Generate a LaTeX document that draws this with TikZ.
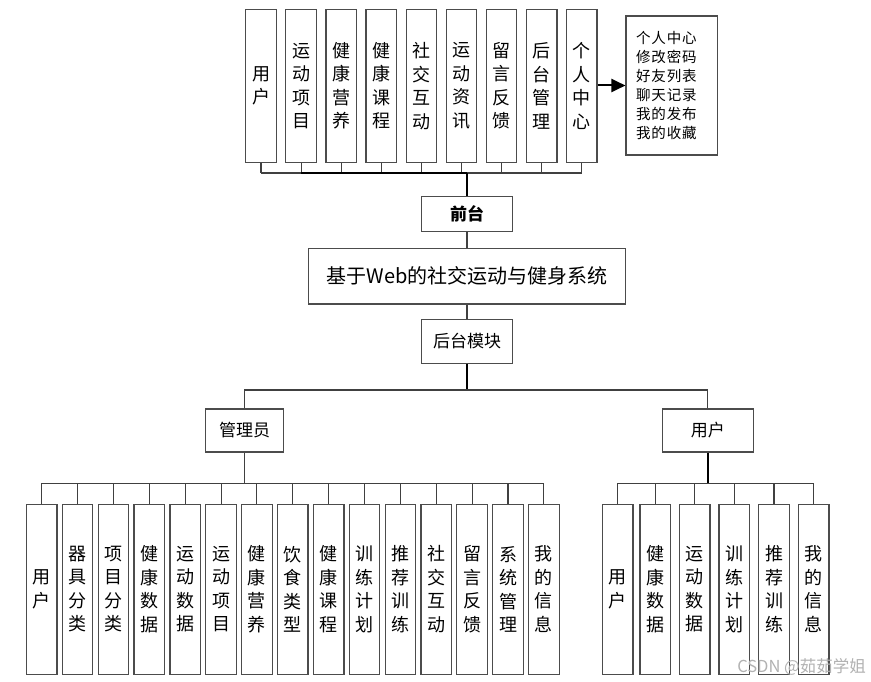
\documentclass[tikz,border=0pt]{standalone}
\usepackage{fontspec}
\setmainfont{Noto Sans CJK SC}
\newfontfamily\cjksp[LetterSpace=6]{Noto Sans CJK SC}
\usetikzlibrary{arrows.meta}
\begin{document}
\begin{tikzpicture}[x=1pt,y=-1pt,
  boxline/.style={draw=black!70,line width=1.2pt},
  vbox/.style={boxline,minimum width=30.5pt,inner sep=0pt,align=center,
    font=\fontsize{18}{23.5}\selectfont},
  topbox/.style={vbox,minimum height=152.8pt},
  lowbox/.style={vbox,minimum height=170pt},
  hbox/.style={boxline,inner sep=0pt,font=\fontsize{17}{20}\selectfont},
  conn/.style={draw=black!75,line width=1.1pt},
  spine/.style={draw=black,line width=1.5pt}]
\useasboundingbox (0,0) rectangle (871,682);
\fill[white] (0,0) rectangle (871,682);

% top row
\foreach \i/\txt in {1/用\\户,2/运\\动\\项\\目,3/健\\康\\营\\养,4/健\\康\\课\\程,5/社\\交\\互\\动,6/运\\动\\资\\讯,7/留\\言\\反\\馈,8/后\\台\\管\\理,9/个\\人\\中\\心}
  \node[topbox] (t\i) at ({261+40.1*(\i-1)},85.9) {\txt};

\node[boxline,minimum width=91.7pt,minimum height=139pt,inner xsep=10pt,inner ysep=0pt,
  text width=71.7pt,align=left,font=\cjksp\fontsize{14.5}{19}\selectfont] (pc) at (671.9,85.5)
  {个人中心\\修改密码\\好友列表\\聊天记录\\我的发布\\我的收藏};
\draw[black,line width=2pt,-{Triangle[length=14pt,width=13pt]}] (t9.east |- pc.west) -- (pc.west);

\node[hbox,minimum width=91.4pt,minimum height=35.7pt,font=\fontsize{17}{20}\selectfont\bfseries] (ft) at (467,214) {前台};
\node[hbox,minimum width=317.4pt,minimum height=55.7pt,font=\fontsize{20}{24}\selectfont] (sys) at (467,276.2) {基于Web的社交运动与健身系统};
\node[hbox,minimum width=91pt,minimum height=44pt] (bk) at (467,341.3) {后台模块};
\node[hbox,minimum width=77.6pt,minimum height=43pt] (adm) at (244.5,430.5) {管理员};
\node[hbox,minimum width=91pt,minimum height=43pt] (usr) at (707.8,430.5) {用户};

\coordinate (tb) at (467,173);
\foreach \i in {1,...,9} \draw[conn] (t\i.south) -- (t\i.south |- tb);
\draw[conn] (t1.south |- tb) -- (t9.south |- tb);
\draw[spine] (t2.south |- tb) -- (tb);
\draw[spine] (ft.north) -- (tb);
\draw[conn] (ft.south) -- (sys.north);
\draw[conn] (sys.south) -- (bk.north);
\coordinate (mb) at (467,390);
\draw[spine] (bk.south) -- (mb);
\draw[conn] (adm.north) |- (mb) -| (usr.north);

% admin children
\foreach \i/\txt in {1/用\\户,2/器\\具\\分\\类,3/项\\目\\分\\类,4/健\\康\\数\\据,5/运\\动\\数\\据,6/运\\动\\项\\目,7/健\\康\\营\\养,8/饮\\食\\类\\型,9/健\\康\\课\\程,10/训\\练\\计\\划,11/推\\荐\\训\\练,12/社\\交\\互\\动,13/留\\言\\反\\馈,14/系\\统\\管\\理,15/我\\的\\信\\息}
  \node[lowbox] (a\i) at ({41.7+35.87*(\i-1)},589.3) {\txt};
\coordinate (ab) at (244.5,483.3);
\draw[conn] (adm.south) -- (ab);
\draw[conn] (a1.north |- ab) -- (a15.north |- ab);
\foreach \i in {1,...,15} \draw[conn] (a\i.north) -- (a\i.north |- ab);

% user children
\foreach \i/\x/\txt in {1/617.7/用\\户,2/655.3/健\\康\\数\\据,3/694.7/运\\动\\数\\据,4/734.3/训\\练\\计\\划,5/774/推\\荐\\训\\练,6/813.7/我\\的\\信\\息}
  \node[lowbox] (u\i) at (\x,589.3) {\txt};
\coordinate (ub) at (707.8,483.3);
\draw[spine] (usr.south) -- (ub);
\draw[conn] (u1.north |- ub) -- (u6.north |- ub);
\foreach \i in {1,...,6} \draw[conn] (u\i.north) -- (u\i.north |- ub);

\node[text=black!30,font=\fontsize{16.5}{19}\selectfont,inner sep=0pt] (wm) at (801.5,667) {CSDN @茹茹学姐};
\end{tikzpicture}
\end{document}
